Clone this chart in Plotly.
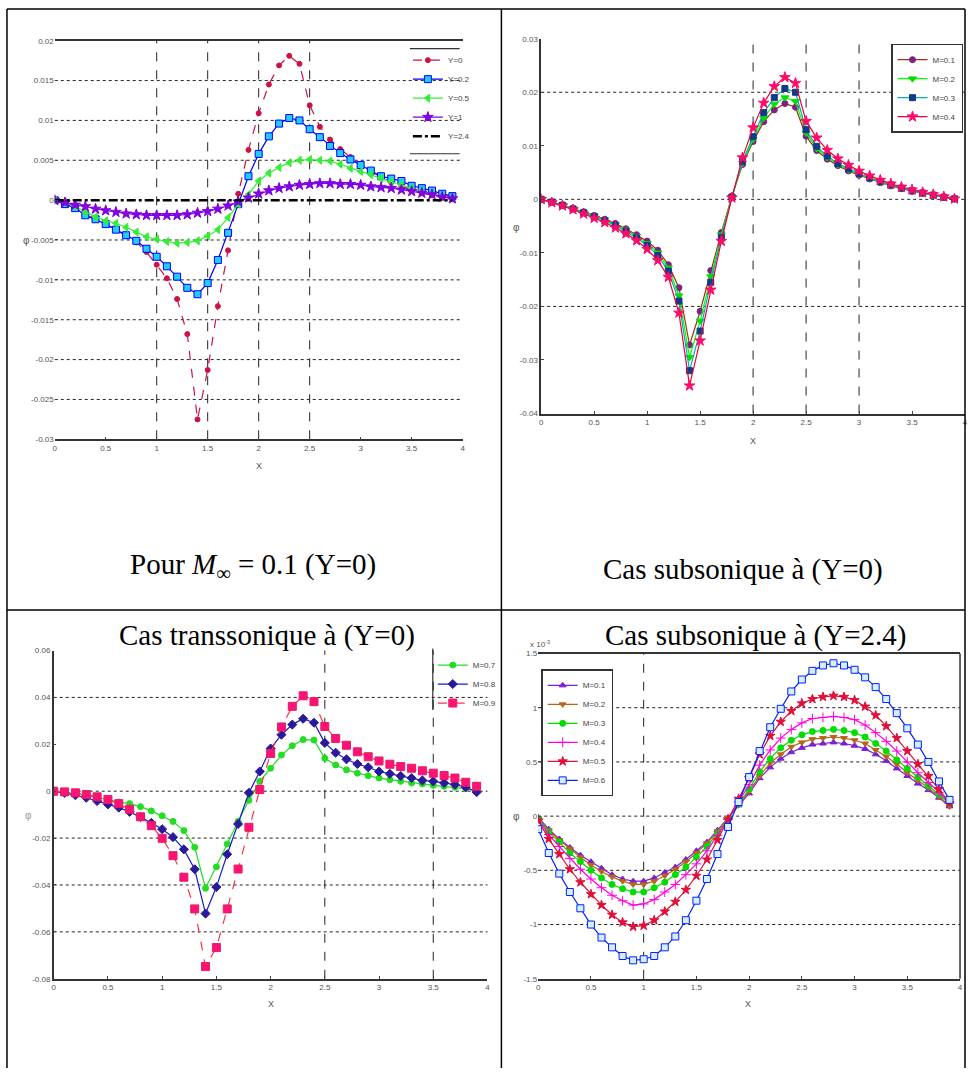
import plotly.graph_objects as go

# ---------------- data ----------------
X = [0.0, 0.1, 0.2, 0.3, 0.4, 0.5, 0.6, 0.7, 0.8, 0.9,
     1.0, 1.1, 1.2, 1.3, 1.4, 1.5, 1.6, 1.7, 1.8, 1.9,
     2.0, 2.1, 2.2, 2.3, 2.4, 2.5, 2.6, 2.7, 2.8, 2.9,
     3.0, 3.1, 3.2, 3.3, 3.4, 3.5, 3.6, 3.7, 3.8, 3.9]

# Panel 1 : M = 0.1, various Y
p1_names = ["Y=0", "Y=0.2", "Y=0.5", "Y=1", "Y=2.4"]
p1_y0 = [0, -0.0005, -0.001, -0.0018, -0.0024, -0.003, -0.0037, -0.0045, -0.0053, -0.0065,
         -0.0081, -0.0098, -0.0124, -0.0168, -0.0275, -0.0213, -0.0133, -0.0063, 0.0008, 0.0063,
         0.0109, 0.0145, 0.0169, 0.0181, 0.0171, 0.0119, 0.0092, 0.0076, 0.0064, 0.0054,
         0.0044, 0.0036, 0.0029, 0.0022, 0.0017, 0.0013, 0.0009, 0.0006, 0.0003, 0.0001]
p1_y02 = [0, -0.0005, -0.001, -0.0019, -0.0024, -0.003, -0.0037, -0.0044, -0.0051, -0.0061,
          -0.0071, -0.0083, -0.0096, -0.011, -0.0118, -0.0104, -0.0075, -0.0041, -0.0005, 0.003,
          0.0058, 0.008, 0.0096, 0.0103, 0.01, 0.0089, 0.0079, 0.0068, 0.0059, 0.0051,
          0.0044, 0.0037, 0.003, 0.0027, 0.0024, 0.0018, 0.0015, 0.0012, 0.0008, 0.0005]
p1_y05 = [0, -0.0003, -0.0008, -0.0015, -0.0021, -0.0026, -0.0029, -0.0034, -0.004, -0.0046,
          -0.0049, -0.0052, -0.0054, -0.0053, -0.0051, -0.0045, -0.0037, -0.0022, -0.0005, 0.0007,
          0.0024, 0.0034, 0.0041, 0.0047, 0.005, 0.0051, 0.005, 0.0049, 0.0045, 0.004,
          0.0036, 0.0032, 0.0027, 0.0023, 0.0019, 0.0015, 0.0011, 0.0008, 0.0005, 0.0002]
p1_y1 = [0, -0.0003, -0.0006, -0.0008, -0.0011, -0.0013, -0.0015, -0.0017, -0.0018, -0.0019,
         -0.0019, -0.0019, -0.0019, -0.0018, -0.0016, -0.0014, -0.0011, -0.0007, -0.0002, 0.0003,
         0.0008, 0.0012, 0.0015, 0.0017, 0.0019, 0.002, 0.0021, 0.0021, 0.002, 0.002,
         0.0019, 0.0017, 0.0016, 0.0015, 0.0013, 0.0011, 0.0009, 0.0007, 0.0004, 0.0002]
p1_y24 = [0, 0, 0, 0, 0, 0, 0, 0, 0, 0,
          0, 0, 0, 0, 0, 0, 0, 0, 0, 0,
          0, 0, 0, 0, 0, 0, 0, 0, 0, 0,
          0, 0, 0, 0, 0, 0, 0, 0, 0, 0]

# Panel 2 : subsonic, Y=0
p2_names = ["M=0.1", "M=0.2", "M=0.3", "M=0.4"]
p2_m1 = [0, -0.0005, -0.001, -0.0017, -0.0023, -0.003, -0.0037, -0.0045, -0.0055, -0.0066,
         -0.0078, -0.0095, -0.0122, -0.0165, -0.0272, -0.0209, -0.0133, -0.0062, 0.0006, 0.0065,
         0.0108, 0.0145, 0.0167, 0.0179, 0.0172, 0.0118, 0.0091, 0.0075, 0.0063, 0.0053,
         0.0045, 0.0038, 0.0031, 0.0025, 0.002, 0.0015, 0.0011, 0.0008, 0.0004, 0.0001]
p2_m2 = [0, -0.0005, -0.001, -0.0017, -0.0024, -0.0031, -0.0038, -0.0047, -0.0057, -0.0069,
         -0.0082, -0.01, -0.0128, -0.018, -0.0295, -0.0227, -0.0144, -0.0066, 0.0005, 0.0068,
         0.0112, 0.0152, 0.0178, 0.019, 0.0183, 0.0124, 0.0095, 0.0078, 0.0065, 0.0055,
         0.0047, 0.0039, 0.0032, 0.0026, 0.0021, 0.0016, 0.0012, 0.0008, 0.0004, 0.0001]
p2_m3 = [0, -0.0005, -0.0011, -0.0018, -0.0025, -0.0032, -0.004, -0.0049, -0.006, -0.0072,
         -0.0086, -0.0105, -0.0134, -0.019, -0.032, -0.0246, -0.0155, -0.0071, 0.0004, 0.0071,
         0.0117, 0.0162, 0.019, 0.0207, 0.02, 0.013, 0.0099, 0.0081, 0.0067, 0.0057,
         0.0048, 0.004, 0.0033, 0.0027, 0.0021, 0.0016, 0.0012, 0.0008, 0.0004, 0.0001]
p2_m4 = [0, -0.0006, -0.0012, -0.0019, -0.0027, -0.0035, -0.0043, -0.0053, -0.0064, -0.0077,
         -0.0093, -0.0114, -0.0145, -0.0212, -0.0348, -0.0264, -0.0169, -0.0078, 0.0003, 0.0078,
         0.0134, 0.018, 0.0211, 0.0228, 0.0217, 0.0146, 0.0115, 0.0092, 0.0076, 0.0064,
         0.0053, 0.0044, 0.0036, 0.0029, 0.0023, 0.0018, 0.0013, 0.0009, 0.0005, 0.0001]

# Panel 3 : transonic, Y=0
p3_names = ["M=0.7", "M=0.8", "M=0.9"]
p3_m7 = [0, -0.0004, -0.001, -0.0018, -0.0028, -0.0039, -0.0046, -0.0053, -0.0066, -0.0084,
         -0.0105, -0.0129, -0.0168, -0.0239, -0.0414, -0.0323, -0.0225, -0.0129, -0.0039, 0.0042,
         0.0098, 0.0154, 0.0194, 0.022, 0.0218, 0.014, 0.0112, 0.0091, 0.0077, 0.0066,
         0.0056, 0.0049, 0.0042, 0.0035, 0.0031, 0.0025, 0.0021, 0.0017, 0.0011, 0.0004]
p3_m8 = [0, -0.0007, -0.0017, -0.0028, -0.0042, -0.0056, -0.007, -0.0088, -0.011, -0.0135,
         -0.0162, -0.0196, -0.0248, -0.0333, -0.0522, -0.0409, -0.0269, -0.014, -0.0007, 0.0084,
         0.0182, 0.0241, 0.0284, 0.0309, 0.0292, 0.0206, 0.0164, 0.0136, 0.0116, 0.0102,
         0.0084, 0.0074, 0.0065, 0.0056, 0.0046, 0.0042, 0.0035, 0.0028, 0.0017, -0.0004]
p3_m9 = [0, -0.0003, -0.0007, -0.0014, -0.0024, -0.0035, -0.0053, -0.0077, -0.0109, -0.0147,
         -0.0201, -0.0275, -0.0367, -0.0502, -0.0748, -0.0667, -0.0502, -0.0332, -0.0154, 0.0007,
         0.0161, 0.0274, 0.0362, 0.0407, 0.0382, 0.0276, 0.0225, 0.0196, 0.0168, 0.0147,
         0.0129, 0.0115, 0.0105, 0.0098, 0.0087, 0.0077, 0.0067, 0.0056, 0.0038, 0.0021]

# Panel 4 : subsonic, Y=2.4 (values in units of 1e-3)
p4_names = ["M=0.1", "M=0.2", "M=0.3", "M=0.4", "M=0.5", "M=0.6"]
p4_m1 = [-0.01, -0.12, -0.21, -0.29, -0.36, -0.42, -0.48, -0.54, -0.58, -0.6,
         -0.6, -0.57, -0.52, -0.47, -0.4, -0.32, -0.24, -0.13, -0.02, 0.1,
         0.21, 0.35, 0.45, 0.53, 0.59, 0.63, 0.66, 0.67, 0.68, 0.67,
         0.65, 0.62, 0.57, 0.51, 0.44, 0.37, 0.3, 0.24, 0.17, 0.09]
p4_m2 = [-0.02, -0.13, -0.22, -0.3, -0.38, -0.45, -0.51, -0.56, -0.6, -0.63,
         -0.63, -0.6, -0.55, -0.49, -0.42, -0.34, -0.25, -0.14, -0.02, 0.1,
         0.23, 0.37, 0.49, 0.57, 0.64, 0.68, 0.71, 0.72, 0.73, 0.72,
         0.7, 0.67, 0.61, 0.55, 0.48, 0.4, 0.33, 0.26, 0.18, 0.09]
p4_m3 = [-0.02, -0.15, -0.24, -0.34, -0.42, -0.5, -0.57, -0.63, -0.67, -0.7,
         -0.7, -0.66, -0.61, -0.54, -0.47, -0.38, -0.28, -0.16, -0.03, 0.11,
         0.25, 0.41, 0.53, 0.63, 0.7, 0.75, 0.78, 0.79, 0.8, 0.79,
         0.77, 0.73, 0.67, 0.6, 0.52, 0.44, 0.36, 0.28, 0.2, 0.11]
p4_m4 = [-0.03, -0.17, -0.28, -0.39, -0.49, -0.58, -0.66, -0.73, -0.78, -0.82,
         -0.81, -0.77, -0.7, -0.63, -0.54, -0.44, -0.32, -0.18, -0.03, 0.13,
         0.29, 0.47, 0.61, 0.72, 0.8, 0.86, 0.9, 0.91, 0.92, 0.91,
         0.89, 0.84, 0.77, 0.69, 0.6, 0.5, 0.4, 0.31, 0.22, 0.12]
p4_m5 = [-0.04, -0.21, -0.35, -0.49, -0.61, -0.72, -0.82, -0.91, -0.98, -1.02,
         -1.01, -0.96, -0.88, -0.79, -0.68, -0.55, -0.4, -0.22, -0.03, 0.16,
         0.35, 0.57, 0.74, 0.87, 0.97, 1.04, 1.08, 1.1, 1.11, 1.1,
         1.07, 1.01, 0.93, 0.83, 0.72, 0.6, 0.48, 0.37, 0.25, 0.12]
p4_m6 = [-0.12, -0.34, -0.53, -0.7, -0.85, -1.0, -1.12, -1.21, -1.29, -1.33,
         -1.32, -1.29, -1.21, -1.11, -0.96, -0.78, -0.58, -0.35, -0.1, 0.13,
         0.36, 0.6, 0.82, 0.99, 1.15, 1.26, 1.34, 1.39, 1.41, 1.39,
         1.35, 1.28, 1.19, 1.08, 0.95, 0.81, 0.66, 0.5, 0.32, 0.15]

# ticks
x_ticks = [0, 0.5, 1, 1.5, 2, 2.5, 3, 3.5, 4]
x_labels = ["0", "0.5", "1", "1.5", "2", "2.5", "3", "3.5", "4"]
p1_yticks = [-0.03, -0.025, -0.02, -0.015, -0.01, -0.005, 0, 0.005, 0.01, 0.015, 0.02]
p1_ylabels = ["-0.03", "-0.025", "-0.02", "-0.015", "-0.01", "-0.005", "0", "0.005", "0.01", "0.015", "0.02"]
p2_yticks = [-0.04, -0.03, -0.02, -0.01, 0, 0.01, 0.02, 0.03]
p2_ylabels = ["-0.04", "-0.03", "-0.02", "-0.01", "0", "0.01", "0.02", "0.03"]
p3_yticks = [-0.08, -0.06, -0.04, -0.02, 0, 0.02, 0.04, 0.06]
p3_ylabels = ["-0.08", "-0.06", "-0.04", "-0.02", "0", "0.02", "0.04", "0.06"]
p4_yticks = [-1.5, -1, -0.5, 0, 0.5, 1, 1.5]
p4_ylabels = ["-1.5", "-1", "-0.5", "0", "0.5", "1", "1.5"]

# grid lines actually visible in each panel
p1_vgrid = [1, 1.5, 2, 2.5]
p1_hgrid = [-0.025, -0.02, -0.015, -0.01, -0.005, 0.005, 0.01, 0.015]
p2_vgrid = [2, 2.5, 3]
p2_hgrid = [-0.02, 0, 0.02]
p3_vgrid = [2.5, 3.5]
p3_hgrid = [-0.06, -0.04, -0.02, 0, 0.04]
p4_vgrid = [1]
p4_hgrid = [-1, -0.5, 0, 0.5, 1]

# ---------------- figure ----------------
W, H = 969, 1073
def fx(p):
    return p / W
def fy(p):
    return 1 - p / H

fig = go.Figure()

def add(xa, ya, leg, name, y, color, symbol, size, mcolor=None, mline=None, dash="solid", width=1.2, mode="lines+markers"):
    fig.add_trace(go.Scatter(
        x=X, y=y, name=name, mode=mode, xaxis=xa, yaxis=ya, legend=leg,
        line=dict(color=color, width=width, dash=dash),
        marker=dict(symbol=symbol, size=size, color=mcolor or color,
                    line=dict(color=mline or (mcolor or color), width=1)),
    ))

# panel 1
add("x", "y", "legend", p1_names[0], p1_y0, "#cc1144", "circle", 5, dash="dash")
add("x", "y", "legend", p1_names[1], p1_y02, "#0000ff", "square", 7, mcolor="#22ccff", mline="#0000ff")
add("x", "y", "legend", p1_names[2], p1_y05, "#33ee33", "triangle-left", 7)
add("x", "y", "legend", p1_names[3], p1_y1, "#8000e0", "star", 8)
add("x", "y", "legend", p1_names[4], p1_y24, "#000000", "circle", 1, dash="dashdot", width=2.5, mode="lines")

# panel 2
add("x2", "y2", "legend2", p2_names[0], p2_m1, "#993311", "circle", 6, mcolor="#802080")
add("x2", "y2", "legend2", p2_names[1], p2_m2, "#00ff00", "triangle-down", 7, mcolor="#00e000")
add("x2", "y2", "legend2", p2_names[2], p2_m3, "#00b0b0", "square", 6, mcolor="#123a8a")
add("x2", "y2", "legend2", p2_names[3], p2_m4, "#ee0033", "star", 8, mcolor="#ff0a6a")

# panel 3
add("x3", "y3", "legend3", p3_names[0], p3_m7, "#22dd22", "circle", 6)
add("x3", "y3", "legend3", p3_names[1], p3_m8, "#1a1acc", "diamond", 7, mcolor="#2a1a9a")
add("x3", "y3", "legend3", p3_names[2], p3_m9, "#ff3344", "square", 8, mcolor="#ff1177", mline="#e02060", dash="dash")

# panel 4
add("x4", "y4", "legend4", p4_names[0], p4_m1, "#7a1fd6", "triangle-up", 6)
add("x4", "y4", "legend4", p4_names[1], p4_m2, "#b8651a", "triangle-down", 6)
add("x4", "y4", "legend4", p4_names[2], p4_m3, "#00dd00", "circle", 6)
add("x4", "y4", "legend4", p4_names[3], p4_m4, "#ff00dd", "cross-thin", 7, mline="#ff00dd")
add("x4", "y4", "legend4", p4_names[4], p4_m5, "#e0103a", "star", 7)
add("x4", "y4", "legend4", p4_names[5], p4_m6, "#0022ff", "square", 7, mcolor="#d6ecff", mline="#0022ff")

tick_font = dict(family="Liberation Sans", size=8, color="#555555")

def xax(dom, anchor, mirror):
    return dict(domain=dom, anchor=anchor, range=[0, 4], tickvals=x_ticks, ticktext=x_labels,
                showgrid=False, zeroline=False, showline=True, linecolor="#333333", linewidth=1.5,
                mirror=mirror, ticks="inside", ticklen=3, tickfont=tick_font)

def yax(dom, anchor, rng, tv, tt, showline):
    return dict(domain=dom, anchor=anchor, range=rng, tickvals=tv, ticktext=tt,
                showgrid=False, zeroline=False, showline=showline, linecolor="#333333", linewidth=1.5,
                ticks="inside", ticklen=3, tickfont=tick_font)

leg_font = dict(family="Liberation Sans", size=8, color="#444")
fig.update_layout(
    width=W, height=H, autosize=False,
    margin=dict(l=0, r=0, t=0, b=0),
    paper_bgcolor="white", plot_bgcolor="white",
    xaxis=xax([fx(53), fx(463)], "y", True),
    yaxis=yax([fy(439), fy(37)], "x", [-0.03, 0.02], p1_yticks, p1_ylabels, False),
    xaxis2=xax([fx(542), fx(968)], "y2", False),
    yaxis2=yax([fy(413), fy(35)], "x2", [-0.04, 0.03], p2_yticks, p2_ylabels, True),
    xaxis3=xax([fx(52), fx(488)], "y3", False),
    yaxis3=yax([fy(983), fy(652)], "x3", [-0.08, 0.06], p3_yticks, p3_ylabels, True),
    xaxis4=xax([fx(539), fx(963)], "y4", True),
    yaxis4=yax([fy(983), fy(655)], "x4", [-1.5, 1.5], p4_yticks, p4_ylabels, False),
    legend=dict(x=fx(408), y=fy(42), xanchor="left", yanchor="top", bgcolor="rgba(255,255,255,0)",
                font=leg_font, itemwidth=30, tracegroupgap=0),
    legend2=dict(x=fx(966), y=fy(40), xanchor="right", yanchor="top", bgcolor="white",
                 bordercolor="#333", borderwidth=1.5, font=leg_font, itemwidth=30),
    legend3=dict(x=fx(433), y=fy(652), xanchor="left", yanchor="top", bgcolor="rgba(255,255,255,0)",
                 font=leg_font, itemwidth=30),
    legend4=dict(x=fx(542), y=fy(671), xanchor="left", yanchor="top", bgcolor="white",
                 bordercolor="#333", borderwidth=1.5, font=leg_font, itemwidth=30),
    showlegend=True,
)

shapes = []
def vgrid(xr, yr, vals):
    for v in vals:
        shapes.append(dict(type="line", xref=xr, yref=yr + " domain", x0=v, x1=v, y0=0, y1=1,
                           line=dict(color="#222", width=1, dash="dash"), layer="below"))
def hgrid(xr, yr, vals):
    for v in vals:
        shapes.append(dict(type="line", xref=xr + " domain", yref=yr, x0=0, x1=1, y0=v, y1=v,
                           line=dict(color="#222", width=1, dash="dot"), layer="below"))

vgrid("x", "y", p1_vgrid); hgrid("x", "y", p1_hgrid)
vgrid("x2", "y2", p2_vgrid); hgrid("x2", "y2", p2_hgrid)
vgrid("x3", "y3", p3_vgrid); hgrid("x3", "y3", p3_hgrid)
vgrid("x4", "y4", p4_vgrid); hgrid("x4", "y4", p4_hgrid)

# panel 4 right frame line
shapes.append(dict(type="line", xref="x4 domain", yref="y4 domain", x0=1, x1=1, y0=0, y1=1,
                   line=dict(color="#333", width=1.5)))

def pline(x0, y0, x1, y1, w=1.5, c="black"):
    shapes.append(dict(type="line", xref="paper", yref="paper", x0=fx(x0), y0=fy(y0), x1=fx(x1), y1=fy(y1),
                       line=dict(color=c, width=w)))

# legend partial frames
pline(410, 45, 460, 45, 1.2, "#333")
pline(410, 151, 460, 151, 1.2, "#333")
pline(433, 650, 433, 712, 1.2, "#333")

# table borders
pline(5, 5, 968, 5)
pline(5, 5, 5, 1073)
pline(968, 5, 968, 1073)
pline(502, 5, 502, 1073)
pline(5, 611, 968, 611)

fig.update_layout(shapes=shapes)

serif = "Liberation Serif"
cap_font = dict(family=serif, size=29, color="black")
lab_font = dict(family="Liberation Sans", size=9, color="#555")
phi_font = dict(family="Liberation Sans", size=10, color="#555")
ann = [
    dict(x=fx(252), y=fy(567), text="Pour <i>M</i><sub>∞</sub> = 0.1 (Y=0)", font=cap_font),
    dict(x=fx(745), y=fy(570), text="Cas subsonique à (Y=0)", font=cap_font),
    dict(x=fx(266), y=fy(637), text="Cas transsonique à (Y=0)", font=cap_font),
    dict(x=fx(757), y=fy(637), text="Cas subsonique à (Y=2.4)", font=cap_font),
    dict(x=fx(541), y=fy(645), text="x 10<sup>-3</sup>", font=dict(family="Liberation Sans", size=8, color="#555")),
    # axis titles
    dict(x=fx(25), y=fy(238), text="φ", font=phi_font),
    dict(x=fx(258), y=fy(466), text="X", font=lab_font),
    dict(x=fx(517), y=fy(225), text="φ", font=phi_font),
    dict(x=fx(755), y=fy(441), text="X", font=lab_font),
    dict(x=fx(27), y=fy(818), text="φ", font=dict(family="Liberation Sans", size=10, color="#999")),
    dict(x=fx(270), y=fy(1008), text="X", font=lab_font),
    dict(x=fx(517), y=fy(819), text="φ", font=phi_font),
    dict(x=fx(750), y=fy(1008), text="X", font=lab_font),
]
for a in ann:
    a.update(xref="paper", yref="paper", showarrow=False, xanchor="center", yanchor="middle")
fig.update_layout(annotations=ann)

fig.write_html("out.html", config={"displayModeBar": False},
               post_script="document.body.style.margin='0';document.body.style.overflow='hidden';")
